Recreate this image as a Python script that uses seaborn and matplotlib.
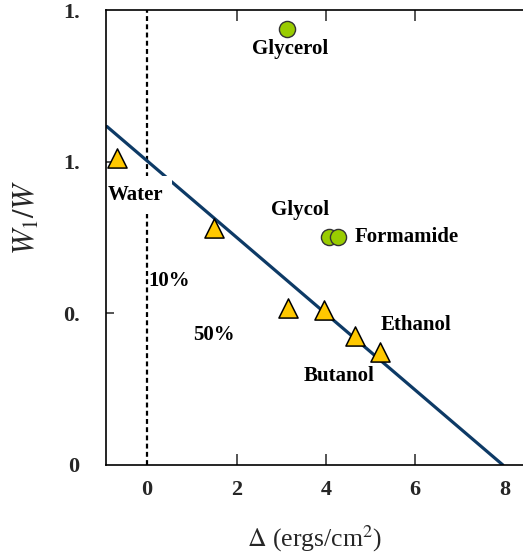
import matplotlib
matplotlib.use("Agg")
import matplotlib.pyplot as plt
import seaborn as sns
import pandas as pd

# ---- data ----
tri_x = [-0.67, 1.50, 3.16, 3.95, 4.64, 5.20]
tri_y = [1.013, 0.78, 0.518, 0.51, 0.426, 0.373]
circ_x = [3.12, 4.06, 4.26]
circ_y = [1.436, 0.752, 0.752]
fit_x = [-0.90, 7.96]
fit_y = [1.116, 0.0]
xtick_vals = [0, 2, 4, 6, 8]
xtick_labels = ["0", "2", "4", "6", "8"]
ytick_vals = [0, 0.5, 1.0, 1.5]
ytick_labels = ["0", "0.", "1.", "1."]
labels = ["Glycerol", "Water", "Glycol", "Formamide", "Ethanol", "Butanol", "10%", "50%"]

sns.set_theme(style="white")
plt.rcParams["font.family"] = ["Liberation Serif", "DejaVu Serif"]
plt.rcParams["mathtext.fontset"] = "stix"

fig = plt.figure(figsize=(5.23, 5.56), dpi=100)
ax = fig.add_axes([106/523, 91/556, 417/523, 455/556])

xmin, xmax = -0.92, 8.41
ax.set_xlim(xmin, xmax)
ax.set_ylim(0, 1.5)

# vertical dashed line at x=0
ax.axvline(0, color="black", lw=1.6, ls=(0, (2.2, 1.5)), zorder=1)

# fit line
sns.lineplot(x=fit_x, y=fit_y, ax=ax, color="#0d3a66", lw=2.3, zorder=2)

tri = pd.DataFrame({"x": tri_x, "y": tri_y})
circ = pd.DataFrame({"x": circ_x, "y": circ_y})
sns.scatterplot(data=tri, x="x", y="y", ax=ax, marker="^", s=190,
                color="#ffc800", edgecolor="black", linewidth=1.1, zorder=4)
sns.scatterplot(data=circ, x="x", y="y", ax=ax, marker="o", s=135,
                color="#99cc00", edgecolor="#333333", linewidth=1.0, zorder=4)

fs = 15
tkw = dict(fontsize=fs, fontweight="bold", color="black")
ax.text(3.21, 1.370, labels[0], ha="center", va="center", **tkw)
ax.text(-0.874, 0.890, labels[1], ha="left", va="center", zorder=2.2,
        bbox=dict(fc="white", ec="none", boxstyle="square,pad=0.42"), **tkw)
ax.text(3.43, 0.842, labels[2], ha="center", va="center", **tkw)
ax.text(4.64, 0.752, labels[3], ha="left", va="center", **tkw)
ax.text(5.22, 0.462, labels[4], ha="left", va="center", **tkw)
ax.text(3.50, 0.294, labels[5], ha="left", va="center", **tkw)
ax.text(0.02, 0.607, labels[6], ha="left", va="center", **tkw)
ax.text(1.03, 0.429, labels[7], ha="left", va="center", **tkw)

# spines
for s in ["left", "bottom", "top"]:
    ax.spines[s].set_visible(True)
    ax.spines[s].set_color("black")
    ax.spines[s].set_linewidth(1.2)
    ax.spines[s].set_zorder(3)
ax.spines["right"].set_visible(False)

ax.set_xticks(xtick_vals)
ax.set_xticklabels(xtick_labels, fontsize=16, fontweight="bold")
ax.set_yticks(ytick_vals)
ax.set_yticklabels(ytick_labels, fontsize=16, fontweight="bold")
ax.tick_params(axis="x", direction="in", length=8, width=1.1, pad=11,
               bottom=True, top=True, labelbottom=True, labeltop=False)
ax.tick_params(axis="y", direction="in", length=6, width=1.1, pad=19,
               left=True, right=False)
for t in ax.xaxis.get_major_ticks():
    if t.get_loc() in (0, 8):
        t.tick1line.set_visible(False)
        t.tick2line.set_visible(False)
for t in ax.yaxis.get_major_ticks():
    if t.get_loc() in (0, 1.5):
        t.tick1line.set_visible(False)

ax.set_xlabel(r"$\Delta$ (ergs/cm$^2$)", fontsize=18.5)
ax.xaxis.set_label_coords(0.5, -0.128)
ax.set_ylabel("")
fig.text(27/523, 1 - 217/556, r"$W_{1}/W$", fontsize=22, rotation=90,
         ha="center", va="center")
ax.grid(False)

fig.savefig("out.png", dpi=100)
